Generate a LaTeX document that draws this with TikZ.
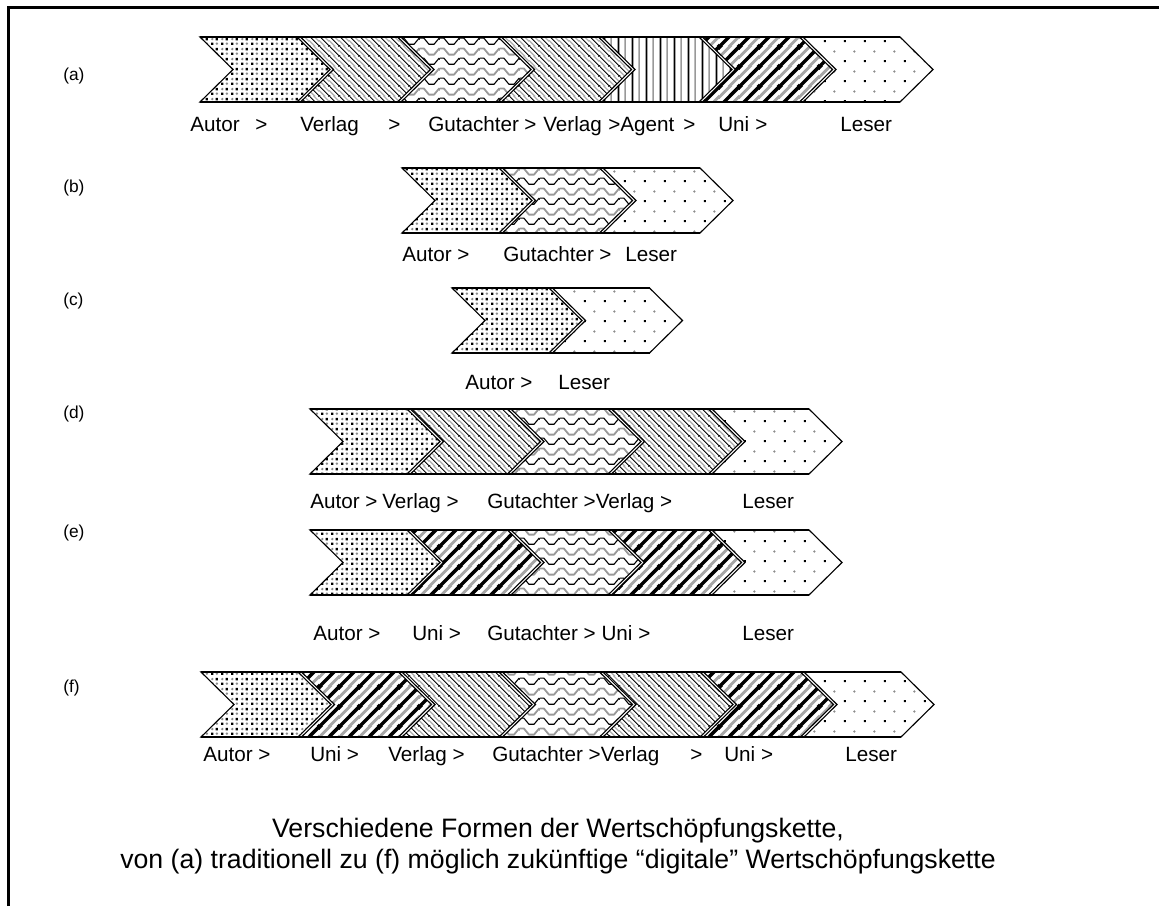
\documentclass[tikz,border=0pt]{standalone}
\usepackage{fontspec}
\setmainfont{Liberation Sans}
\usetikzlibrary{patterns}

% helper segments inside pattern tiles (tile side #2, offset #1, in pt)
\newcommand\patbs[2]{\pgfpathmoveto{\pgfpoint{-1pt}{#1pt+1pt}}\pgfpathlineto{\pgfpoint{#2pt+1pt}{#1pt-#2pt-1pt}}}
\newcommand\patfs[2]{\pgfpathmoveto{\pgfpoint{-1pt}{#1pt-1pt}}\pgfpathlineto{\pgfpoint{#2pt+1pt}{#1pt+#2pt+1pt}}}
\newcommand\patwave[1]{\pgfpathmoveto{\pgfpoint{-1pt}{#1pt+2.4pt}}%
  \pgfpathlineto{\pgfpoint{3pt}{#1pt+2.4pt}}\pgfpathlineto{\pgfpoint{7pt}{#1pt-2.4pt}}%
  \pgfpathlineto{\pgfpoint{11pt}{#1pt-2.4pt}}\pgfpathlineto{\pgfpoint{15pt}{#1pt+2.4pt}}%
  \pgfpathlineto{\pgfpoint{16pt}{#1pt+2.4pt}}}

% Autor: dense black and grey dots
\pgfdeclarepatterninherentlycolored{autordots}{\pgfpointorigin}{\pgfpoint{7.5pt}{7.5pt}}{\pgfpoint{7.5pt}{7.5pt}}{%
  \pgfsetfillcolor{black}%
  \pgfpathrectangle{\pgfpoint{0.9pt}{0.9pt}}{\pgfpoint{1.9pt}{1.9pt}}%
  \pgfpathrectangle{\pgfpoint{4.65pt}{4.65pt}}{\pgfpoint{1.9pt}{1.9pt}}%
  \pgfusepath{fill}%
  \pgfsetfillcolor{black!45}%
  \pgfpathcircle{\pgfpoint{5.625pt}{1.875pt}}{1.1pt}%
  \pgfpathcircle{\pgfpoint{1.875pt}{5.625pt}}{1.1pt}%
  \pgfusepath{fill}}

% Leser: sparse black and grey dots
\pgfdeclarepatterninherentlycolored{leserdots}{\pgfpointorigin}{\pgfpoint{15pt}{15pt}}{\pgfpoint{15pt}{15pt}}{%
  \pgfsetfillcolor{black}%
  \pgfpathrectangle{\pgfpoint{2.95pt}{2.95pt}}{\pgfpoint{1.7pt}{1.7pt}}%
  \pgfusepath{fill}%
  \pgfsetfillcolor{black!45}%
  \pgfpathcircle{\pgfpoint{11.25pt}{11.25pt}}{1pt}%
  \pgfusepath{fill}}

% Verlag: fine falling diagonals, black and grey
\pgfdeclarepatterninherentlycolored{verlaglines}{\pgfpointorigin}{\pgfpoint{7.5pt}{7.5pt}}{\pgfpoint{7.5pt}{7.5pt}}{%
  \pgfsetlinewidth{0.7pt}\pgfsetstrokecolor{black}%
  \patbs{0}{7.5}\patbs{7.5}{7.5}\patbs{15}{7.5}%
  \pgfusepath{stroke}%
  \pgfsetlinewidth{1.1pt}\pgfsetstrokecolor{black!30}%
  \patbs{3.75}{7.5}\patbs{11.25}{7.5}%
  \pgfusepath{stroke}}

% Uni: broad rising diagonals, black and grey
\pgfdeclarepatterninherentlycolored{unilines}{\pgfpointorigin}{\pgfpoint{15pt}{15pt}}{\pgfpoint{15pt}{15pt}}{%
  \pgfsetlinewidth{2.7pt}\pgfsetstrokecolor{black}%
  \patfs{-15}{15}\patfs{0}{15}\patfs{15}{15}%
  \pgfusepath{stroke}%
  \pgfsetlinewidth{2.2pt}\pgfsetstrokecolor{black!35}%
  \patfs{-7.5}{15}\patfs{7.5}{15}%
  \pgfusepath{stroke}}

% Agent: vertical lines, black and grey
\pgfdeclarepatterninherentlycolored{agentlines}{\pgfpointorigin}{\pgfpoint{10.5pt}{10.5pt}}{\pgfpoint{10.5pt}{10.5pt}}{%
  \pgfsetlinewidth{1.5pt}\pgfsetstrokecolor{black}%
  \pgfpathmoveto{\pgfpoint{2pt}{-1pt}}\pgfpathlineto{\pgfpoint{2pt}{11.5pt}}%
  \pgfusepath{stroke}%
  \pgfsetlinewidth{1.3pt}\pgfsetstrokecolor{black!40}%
  \pgfpathmoveto{\pgfpoint{7.25pt}{-1pt}}\pgfpathlineto{\pgfpoint{7.25pt}{11.5pt}}%
  \pgfusepath{stroke}}

% Gutachter: wavy lines, black and grey
\pgfdeclarepatterninherentlycolored{gutwaves}{\pgfpointorigin}{\pgfpoint{15pt}{15pt}}{\pgfpoint{15pt}{15pt}}{%
  \pgfsetroundjoin
  \pgfsetlinewidth{0.85pt}\pgfsetstrokecolor{black}%
  \patwave{3.75}%
  \pgfusepath{stroke}%
  \pgfsetlinewidth{1.4pt}\pgfsetstrokecolor{black!40}%
  \patwave{11.25}%
  \pgfusepath{stroke}}

\tikzset{
  chevron/.style={draw=black, line width=0.85pt, line join=miter},
  edgeline/.style={draw=black, line width=0.85pt},
  pAutor/.style={pattern=autordots},
  pLeser/.style={pattern=leserdots},
  pVerlag/.style={pattern=verlaglines},
  pUni/.style={pattern=unilines},
  pAgent/.style={pattern=agentlines},
  pGut/.style={pattern=gutwaves},
  lab/.style={font=\fontsize{15.5}{18}\selectfont, inner sep=0pt, anchor=base west},
  rowlab/.style={font=\fontsize{13}{15}\selectfont, inner sep=0pt, anchor=base west},
  caption/.style={font=\fontsize{20}{24}\selectfont, inner sep=0pt, anchor=base},
}

% one link of a chain: left edge x, top y, fill style
\newcommand\chev[3]{\path[chevron,#3] (#1,#2) -- ++(97,0) -- ++(33,32.5) -- ++(-33,32.5) -- ++(-97,0) -- ++(33,-32.5) -- cycle;}
% top and bottom rule of a chain: first x, last x, top y
\newcommand\chainedges[3]{\path[edgeline] (#1,#3) -- (#2,#3) (#1,#3+65) -- (#2,#3+65);}

\begin{document}
\begin{tikzpicture}[x=0.75pt, y=-0.75pt]
\useasboundingbox (0,0) rectangle (1159,906);

% frame
\draw[line width=2.25pt, line join=miter] (8.5,906) -- (8.5,8) -- (1159,8);

% (a)
\node[rowlab] (la) at (63,80) {(a)};
\chev{200}{37}{pAutor}
\chev{300.5}{37}{pVerlag}
\chev{401}{37}{pGut}
\chev{501.5}{37}{pVerlag}
\chev{602}{37}{pAgent}
\chev{702.5}{37}{pUni}
\chev{803}{37}{pLeser}
\chainedges{200}{900}{37}
\node[lab] (a1) at (190,131) {Autor};
\node[lab] (a2) at (255,131) {>};
\node[lab] (a3) at (300,131) {Verlag};
\node[lab] (a4) at (388,131) {>};
\node[lab] (a5) at (428,131) {Gutachter};
\node[lab] (a6) at (524,131) {>};
\node[lab] (a7) at (543,131) {Verlag};
\node[lab] (a8) at (608,131) {>Agent};
\node[lab] (a9) at (683,131) {>};
\node[lab] (a10) at (718,131) {Uni};
\node[lab] (a11) at (755,131) {>};
\node[lab] (a12) at (840,131) {Leser};

% (b)
\node[rowlab] (lb) at (63,192) {(b)};
\chev{402}{168}{pAutor}
\chev{502.5}{168}{pGut}
\chev{603}{168}{pLeser}
\chainedges{402}{700}{168}
\node[lab] (b1) at (402,261) {Autor >};
\node[lab] (b2) at (503,261) {Gutachter};
\node[lab] (b3) at (599,261) {>};
\node[lab] (b4) at (625,261) {Leser};

% (c)
\node[rowlab] (lc) at (63,305) {(c)};
\chev{452}{288}{pAutor}
\chev{552.5}{288}{pLeser}
\chainedges{452}{649.5}{288}
\node[lab] (c1) at (465,389) {Autor >};
\node[lab] (c2) at (558,389) {Leser};

% (d)
\node[rowlab] (ld) at (63,418) {(d)};
\chev{310}{409}{pAutor}
\chev{410.5}{409}{pVerlag}
\chev{511}{409}{pGut}
\chev{611.5}{409}{pVerlag}
\chev{712}{409}{pLeser}
\chainedges{310}{809}{409}
\node[lab] (d1) at (310,508) {Autor >};
\node[lab] (d2) at (382,508) {Verlag >};
\node[lab] (d3) at (487,508) {Gutachter >Verlag >};
\node[lab] (d4) at (742,508) {Leser};

% (e)
\node[rowlab] (le) at (63,537) {(e)};
\chev{310}{530}{pAutor}
\chev{410.5}{530}{pUni}
\chev{511}{530}{pGut}
\chev{611.5}{530}{pUni}
\chev{712}{530}{pLeser}
\chainedges{310}{809}{530}
\node[lab] (e1) at (313,640) {Autor >};
\node[lab] (e2) at (412,640) {Uni >};
\node[lab] (e3) at (487,640) {Gutachter > Uni >};
\node[lab] (e4) at (742,640) {Leser};

% (f)
\node[rowlab] (lf) at (63,692) {(f)};
\chev{201}{672}{pAutor}
\chev{301.5}{672}{pUni}
\chev{402}{672}{pVerlag}
\chev{502.5}{672}{pGut}
\chev{603}{672}{pVerlag}
\chev{703.5}{672}{pUni}
\chev{804}{672}{pLeser}
\chainedges{201}{901}{672}
\node[lab] (f1) at (203,761) {Autor >};
\node[lab] (f2) at (310,761) {Uni >};
\node[lab] (f3) at (388,761) {Verlag >};
\node[lab] (f4) at (492,761) {Gutachter >Verlag};
\node[lab] (f5) at (690,761) {>};
\node[lab] (f6) at (724,761) {Uni >};
\node[lab] (f7) at (845,761) {Leser};

% caption
\node[caption] (cap1) at (558,837) {Verschiedene Formen der Wertschöpfungskette,};
\node[caption] (cap2) at (558,868) {von (a) traditionell zu (f) möglich zukünftige “digitale” Wertschöpfungskette};
\end{tikzpicture}
\end{document}
